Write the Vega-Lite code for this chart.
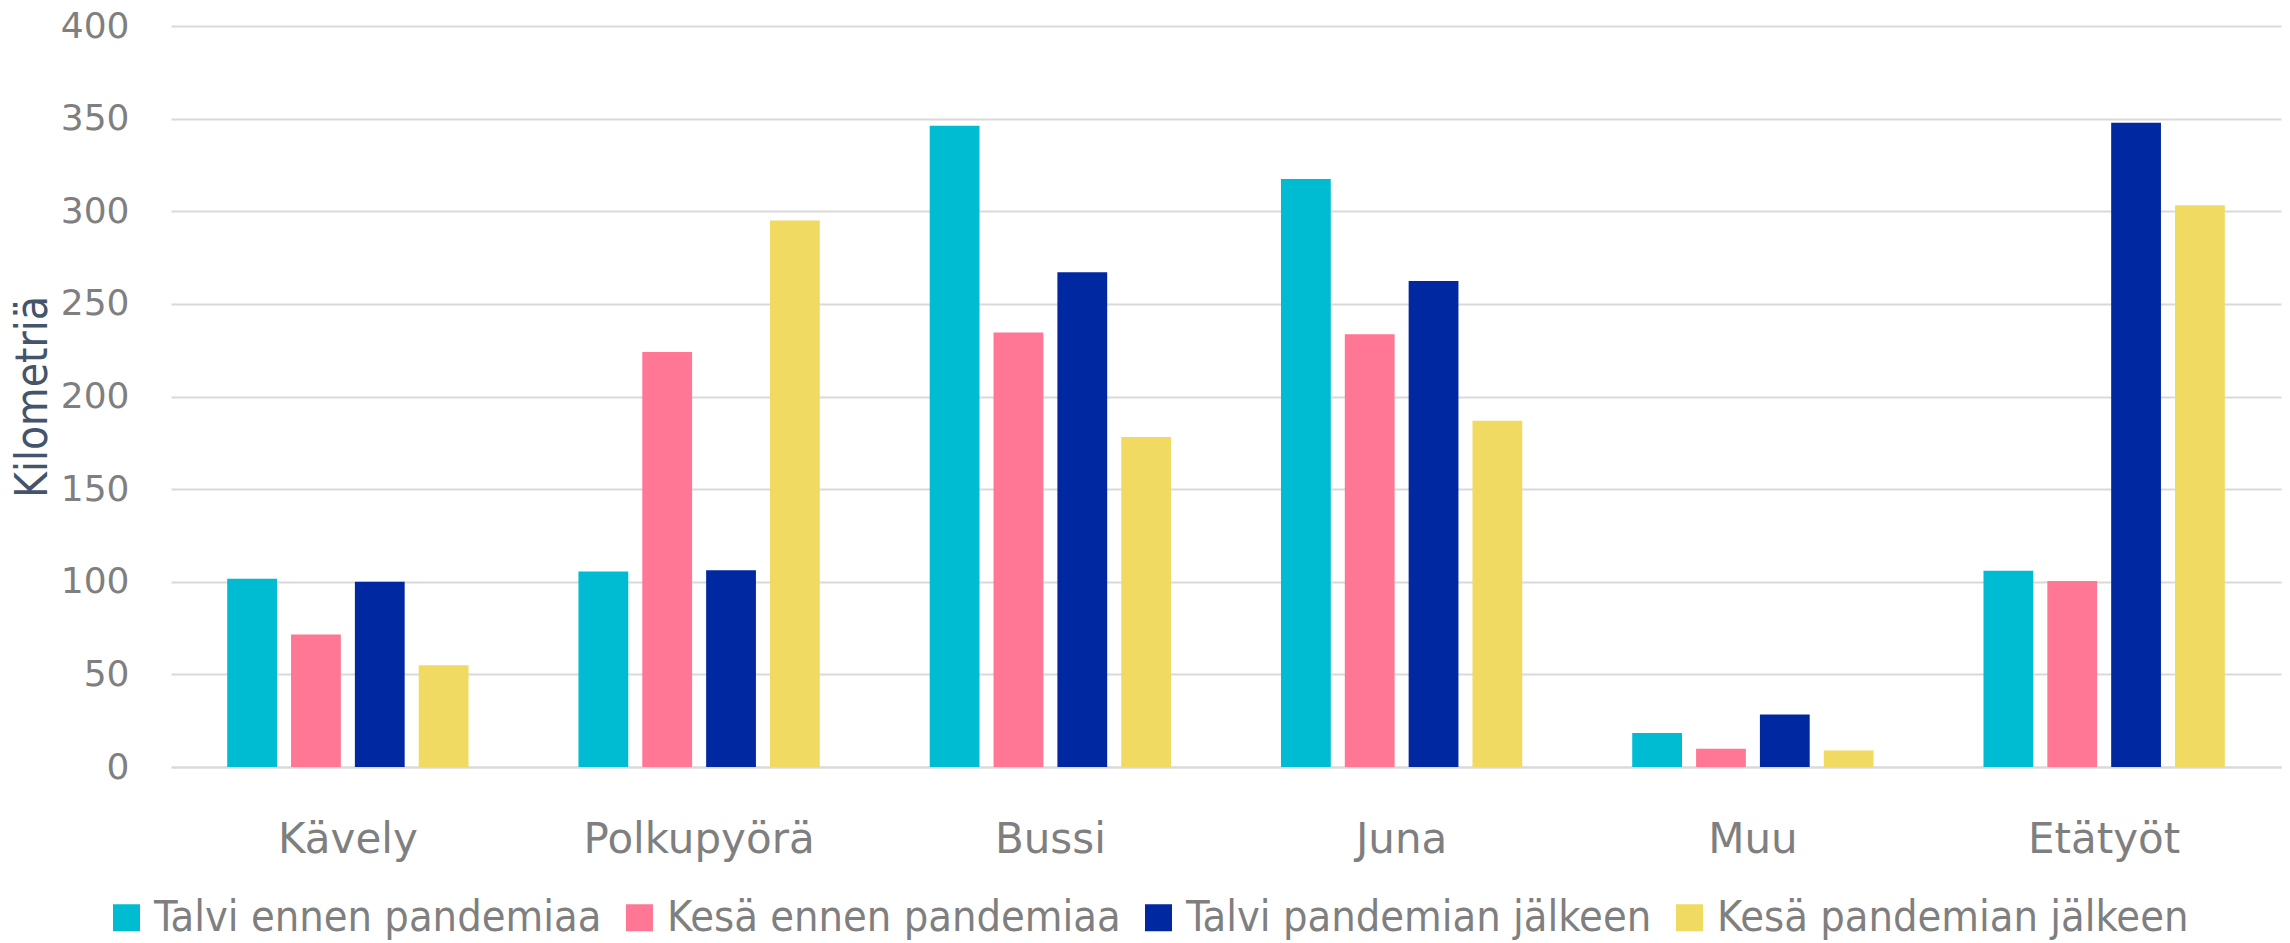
{
  "$schema": "https://vega.github.io/schema/vega-lite/v6.json",
  "autosize": {"type": "none"},
  "padding": {"left": 171, "top": 26, "right": 9, "bottom": 176},
  "width": 2110,
  "height": 741,
  "background": "white",
  "data": {
    "values": [
      {"kulkumuoto": "Kävely", "sarja": "Talvi ennen pandemiaa", "km": 101.6},
      {"kulkumuoto": "Kävely", "sarja": "Kesä ennen pandemiaa", "km": 71.5},
      {"kulkumuoto": "Kävely", "sarja": "Talvi pandemian jälkeen", "km": 100},
      {"kulkumuoto": "Kävely", "sarja": "Kesä pandemian jälkeen", "km": 54.9},
      {"kulkumuoto": "Polkupyörä", "sarja": "Talvi ennen pandemiaa", "km": 105.5},
      {"kulkumuoto": "Polkupyörä", "sarja": "Kesä ennen pandemiaa", "km": 224},
      {"kulkumuoto": "Polkupyörä", "sarja": "Talvi pandemian jälkeen", "km": 106.2},
      {"kulkumuoto": "Polkupyörä", "sarja": "Kesä pandemian jälkeen", "km": 295},
      {"kulkumuoto": "Bussi", "sarja": "Talvi ennen pandemiaa", "km": 346.1},
      {"kulkumuoto": "Bussi", "sarja": "Kesä ennen pandemiaa", "km": 234.6},
      {"kulkumuoto": "Bussi", "sarja": "Talvi pandemian jälkeen", "km": 267.1},
      {"kulkumuoto": "Bussi", "sarja": "Kesä pandemian jälkeen", "km": 178.2},
      {"kulkumuoto": "Juna", "sarja": "Talvi ennen pandemiaa", "km": 317.4},
      {"kulkumuoto": "Juna", "sarja": "Kesä ennen pandemiaa", "km": 233.6},
      {"kulkumuoto": "Juna", "sarja": "Talvi pandemian jälkeen", "km": 262.3},
      {"kulkumuoto": "Juna", "sarja": "Kesä pandemian jälkeen", "km": 186.9},
      {"kulkumuoto": "Muu", "sarja": "Talvi ennen pandemiaa", "km": 18.3},
      {"kulkumuoto": "Muu", "sarja": "Kesä ennen pandemiaa", "km": 9.9},
      {"kulkumuoto": "Muu", "sarja": "Talvi pandemian jälkeen", "km": 28.4},
      {"kulkumuoto": "Muu", "sarja": "Kesä pandemian jälkeen", "km": 8.9},
      {"kulkumuoto": "Etätyöt", "sarja": "Talvi ennen pandemiaa", "km": 106},
      {"kulkumuoto": "Etätyöt", "sarja": "Kesä ennen pandemiaa", "km": 100.4},
      {"kulkumuoto": "Etätyöt", "sarja": "Talvi pandemian jälkeen", "km": 347.8},
      {"kulkumuoto": "Etätyöt", "sarja": "Kesä pandemian jälkeen", "km": 303.2}
    ]
  },
  "mark": {"type": "bar"},
  "encoding": {
    "x": {
      "field": "kulkumuoto",
      "type": "nominal",
      "sort": ["Kävely", "Polkupyörä", "Bussi", "Juna", "Muu", "Etätyöt"],
      "scale": {"paddingInner": 0.313, "paddingOuter": 0.16},
      "axis": {
        "title": null,
        "labelAngle": 0,
        "labelFont": "DejaVu Sans",
        "labelFontSize": 42,
        "labelColor": "#7f7f7f",
        "labelPadding": 52,
        "labelLimit": 600,
        "ticks": false,
        "domain": true,
        "domainColor": "#d9d9d9",
        "domainWidth": 2,
        "grid": false
      }
    },
    "xOffset": {
      "field": "sarja",
      "type": "nominal",
      "sort": ["Talvi ennen pandemiaa", "Kesä ennen pandemiaa", "Talvi pandemian jälkeen", "Kesä pandemian jälkeen"],
      "scale": {"paddingInner": 0.22, "paddingOuter": 0}
    },
    "y": {
      "field": "km",
      "type": "quantitative",
      "scale": {"domain": [0, 400], "nice": false},
      "axis": {
        "title": "Kilometriä",
        "titleFont": "DejaVu Sans Condensed",
        "titleFontSize": 44,
        "titleFontWeight": "normal",
        "titleColor": "#44546a",
        "titlePadding": 5,
        "values": [0, 50, 100, 150, 200, 250, 300, 350, 400],
        "labelFont": "DejaVu Sans",
        "labelFontSize": 36,
        "labelColor": "#7f7f7f",
        "labelPadding": 42,
        "ticks": false,
        "domain": false,
        "grid": true,
        "gridColor": "#d9d9d9",
        "gridWidth": 2
      }
    },
    "color": {
      "field": "sarja",
      "type": "nominal",
      "sort": ["Talvi ennen pandemiaa", "Kesä ennen pandemiaa", "Talvi pandemian jälkeen", "Kesä pandemian jälkeen"],
      "scale": {
        "domain": ["Talvi ennen pandemiaa", "Kesä ennen pandemiaa", "Talvi pandemian jälkeen", "Kesä pandemian jälkeen"],
        "range": ["#00bcd2", "#ff7794", "#0029a1", "#f0da62"]
      },
      "legend": {
        "title": null,
        "orient": "none",
        "legendX": -66,
        "legendY": 870,
        "direction": "horizontal",
        "symbolType": "square",
        "symbolSize": 729,
        "symbolOpacity": 1,
        "symbolStrokeWidth": 0,
        "labelFont": "DejaVu Sans Condensed",
        "labelFontSize": 43,
        "labelColor": "#7f7f7f",
        "labelOffset": 6,
        "labelLimit": 1000,
        "columnPadding": 16
      }
    }
  },
  "config": {
    "view": {"stroke": null}
  }
}
